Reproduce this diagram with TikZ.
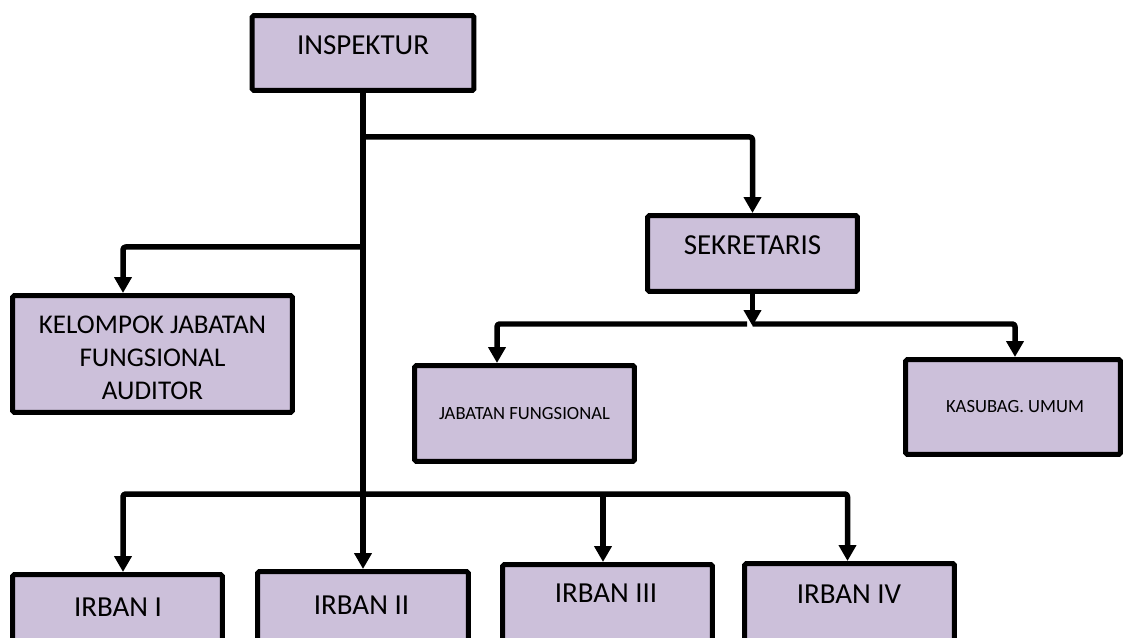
\documentclass[tikz,border=0pt]{standalone}
\usepackage{fontspec}
\setmainfont{Carlito}
\usetikzlibrary{arrows.meta}
\definecolor{boxfill}{RGB}{204,192,218}
\tikzset{
  orgbox/.style={draw=black, line width=0.1cm, fill=boxfill, rounded corners=1pt, inner sep=0pt},
  conn/.style={line width=0.11cm, rounded corners=1.5pt, line join=round, -{Triangle[length=0.32cm,width=0.34cm]}},
  bigtxt/.style={font=\fontsize{16.5}{20}\selectfont, inner sep=0pt, anchor=base},
  midtxt/.style={font=\fontsize{15.4}{18.7}\selectfont, inner sep=0pt, align=center},
  smalltxt/.style={font=\fontsize{10.6}{12}\selectfont, inner sep=0pt, anchor=base}
}
\begin{document}
\begin{tikzpicture}[x=0.02cm, y=-0.02cm]
\useasboundingbox (0,0) rectangle (1125,638);
\clip (0,0) rectangle (1125,638);

% boxes
\node[orgbox, minimum width=4.44cm, minimum height=1.5cm] (insp) at (363,53) {};
\node[orgbox, minimum width=4.2cm, minimum height=1.52cm] (sek) at (752.5,253.5) {};
\node[orgbox, minimum width=5.6cm, minimum height=2.34cm] (kel) at (152.5,354) {};
\node[orgbox, minimum width=4.4cm, minimum height=1.92cm] (jab) at (524.5,413.5) {};
\node[orgbox, minimum width=4.3cm, minimum height=1.9cm] (kas) at (1013,407) {};
\node[orgbox, minimum width=4.2cm, minimum height=2.46cm] (ir1) at (117.5,636) {};
\node[orgbox, minimum width=4.22cm, minimum height=2.52cm] (ir2) at (363,634.5) {};
\node[orgbox, minimum width=4.2cm, minimum height=2.66cm] (ir3) at (607.5,631) {};
\node[orgbox, minimum width=4.2cm, minimum height=2.68cm] (ir4) at (849.5,630.5) {};

% labels
\node[bigtxt] (tinsp) at (363,55) {INSPEKTUR};
\node[bigtxt] (tsek) at (752.5,255) {SEKRETARIS};
\node[midtxt] (tkel) at (152.5,357.5) {KELOMPOK JABATAN\\FUNGSIONAL\\AUDITOR};
\node[smalltxt] (tjab) at (524.5,419) {JABATAN FUNGSIONAL};
\node[smalltxt] (tkas) at (1015,412) {KASUBAG. UMUM};
\node[bigtxt] (tir1) at (118,616) {IRBAN I};
\node[bigtxt] (tir2) at (361.5,614) {IRBAN II};
\node[bigtxt] (tir3) at (606,602) {IRBAN III};
\node[bigtxt] (tir4) at (849,603) {IRBAN IV};

% junction points
\coordinate (b1) at (363,137);
\coordinate (b2) at (363,247);
\coordinate (b3) at (363,494);
\coordinate (sj) at (752.5,326);
\coordinate (sl) at (747,324);
\coordinate (sr) at (752.5,324);

% connectors
\draw[conn] (insp.south) -- (ir2.north);
\draw[conn] (b1) -| (sek.north);
\draw[conn] (b2) -| ([xshift=-0.59cm]kel.north);
\draw[conn] (b3) -| ([xshift=0.11cm]ir1.north);
\draw[conn] (b3) -| ([xshift=-0.04cm]ir4.north);
\draw[conn] ([xshift=-0.09cm]ir3.north |- b3) -- ([xshift=-0.09cm]ir3.north);
\draw[conn] (sek.south) -- (sj);
\draw[conn] (sl) -| ([xshift=-0.55cm]jab.north);
\draw[conn] (sr) -| ([xshift=0.04cm]kas.north);
\end{tikzpicture}
\end{document}
